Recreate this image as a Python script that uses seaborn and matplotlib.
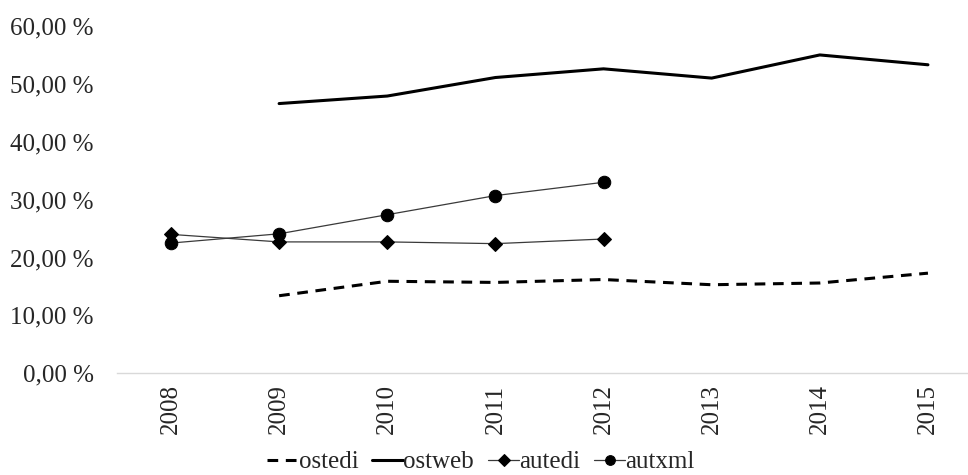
import matplotlib
matplotlib.use("Agg")
import matplotlib.pyplot as plt
import seaborn as sns
import pandas as pd
from matplotlib.ticker import FuncFormatter

years = [2008, 2009, 2010, 2011, 2012, 2013, 2014, 2015]
ostedi_years = [2009, 2010, 2011, 2012, 2013, 2014, 2015]
ostedi = [13.4, 15.9, 15.7, 16.2, 15.3, 15.6, 17.3]
ostweb_years = [2009, 2010, 2011, 2012, 2013, 2014, 2015]
ostweb = [46.6, 47.9, 51.1, 52.6, 51.0, 55.0, 53.3]
aut_years = [2008, 2009, 2010, 2011, 2012]
autedi = [24.0, 22.7, 22.7, 22.4, 23.2]
autxml = [22.5, 24.1, 27.4, 30.7, 33.0]
yticks = [0, 10, 20, 30, 40, 50, 60]

sns.set_theme(style="white")
plt.rcParams['font.family'] = ['Liberation Serif', 'DejaVu Serif']

W, H = 968, 475
fig = plt.figure(figsize=(W / 100, H / 100), dpi=100)
left_px, right_px, top_px, bot_px = 116.9, 968, 26, 373.3
ax = fig.add_axes([left_px / W, 1 - bot_px / H, (right_px - left_px) / W, (bot_px - top_px) / H])

df_ostedi = pd.DataFrame({"year": ostedi_years, "v": ostedi})
df_ostweb = pd.DataFrame({"year": ostweb_years, "v": ostweb})
df_autedi = pd.DataFrame({"year": aut_years, "v": autedi})
df_autxml = pd.DataFrame({"year": aut_years, "v": autxml})

sns.lineplot(data=df_ostedi, x="year", y="v", ax=ax, color="black", lw=2.2,
             linestyle=(0, (3.5, 2.5)), label="ostedi")
sns.lineplot(data=df_ostweb, x="year", y="v", ax=ax, color="black", lw=2.2,
             label="ostweb")
sns.lineplot(data=df_autedi, x="year", y="v", ax=ax, color="#3a3a3a", lw=0.9,
             marker="D", markersize=7, markerfacecolor="black", markeredgecolor="black",
             label="autedi")
sns.lineplot(data=df_autxml, x="year", y="v", ax=ax, color="#3a3a3a", lw=0.9,
             marker="o", markersize=9, markerfacecolor="black", markeredgecolor="black",
             label="autxml")

ax.set_xlim(2007.5, 2007.5 + (right_px - left_px) / 108.14)
ax.set_ylim(0, 60)
ax.set_xticks(years)
ax.set_xticklabels([str(y) for y in years], rotation=90, fontsize=18)
ax.set_yticks(yticks)
ax.yaxis.set_major_formatter(FuncFormatter(lambda v, p: f"{v:.2f}".replace(".", ",") + " %"))
ax.tick_params(axis="y", labelsize=18, length=0, pad=16.5)
ax.tick_params(axis="x", length=0, pad=8)
ax.set_xlabel("")
ax.set_ylabel("")
for s in ["top", "right", "left"]:
    ax.spines[s].set_visible(False)
ax.spines["bottom"].set_color("#d9d9d9")
ax.spines["bottom"].set_linewidth(1)
ax.grid(False)

handles, labels = ax.get_legend_handles_labels()
ax.get_legend().remove()
leg = fig.legend(handles, labels, loc="center", bbox_to_anchor=(481 / W, 1 - 462 / H), ncol=4,
                 frameon=False, fontsize=18, handlelength=1.25, handletextpad=0.0,
                 columnspacing=0.55, borderpad=0)
for h in leg.legend_handles:
    if h.get_marker() == "D":
        h.set_markersize(6)
    elif h.get_marker() == "o":
        h.set_markersize(7)

fig.savefig("out.png", dpi=100)
